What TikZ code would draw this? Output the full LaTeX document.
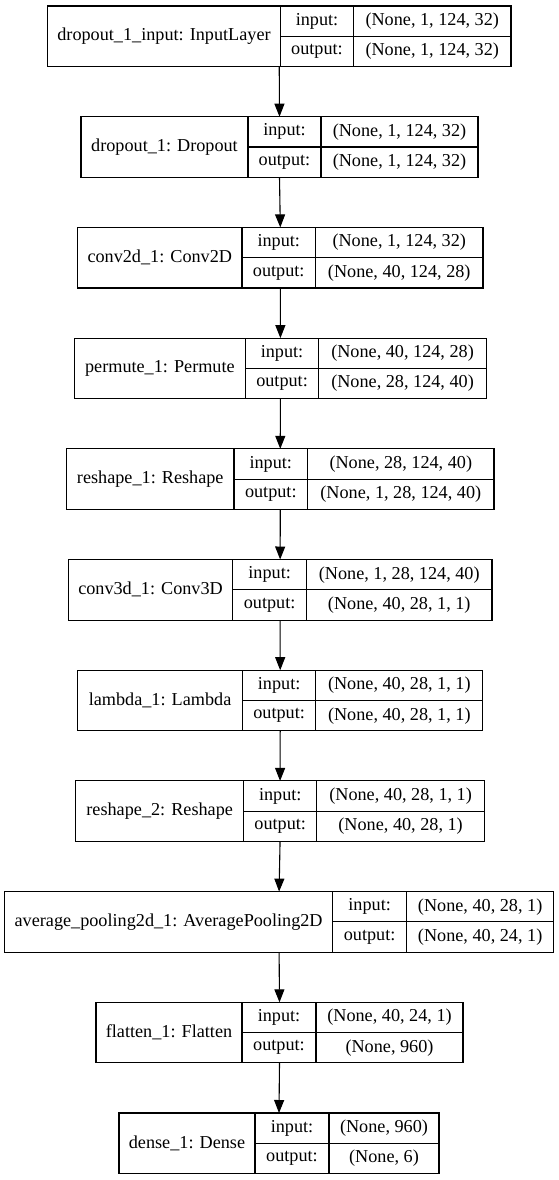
\documentclass[tikz,border=0pt]{standalone}
\usepackage{fontspec}
\setmainfont{Liberation Serif}
\usetikzlibrary{arrows.meta,calc}

\tikzset{
	cell/.style={draw, line width=1.1pt, inner sep=0pt, outer sep=0pt, anchor=north west, font=\fontsize{18.2}{20}\selectfont},
	flow/.style={-{Triangle[length=13pt,width=10pt]}, line width=1.1pt}
}

% #1 name, #2 top, #3-#6 column edges, #7 layer, #8 input shape, #9 output shape
\newcommand{\layerbox}[9]{%
	\node[cell, minimum width={(#4-#3)*1pt}, minimum height=60.6pt] (#1) at (#3,#2) {#7};
	\node[cell, minimum width={(#5-#4)*1pt}, minimum height=30.3pt] (#1-ki) at (#1.north east) {input:};
	\node[cell, minimum width={(#5-#4)*1pt}, minimum height=30.3pt] (#1-ko) at (#1-ki.south west) {output:};
	\node[cell, minimum width={(#6-#5)*1pt}, minimum height=30.3pt] (#1-vi) at (#1-ki.north east) {#8};
	\node[cell, minimum width={(#6-#5)*1pt}, minimum height=30.3pt] (#1-vo) at (#1-vi.south west) {#9};
	\coordinate (#1-top) at ({(#3+#6)/2},#2);
	\coordinate (#1-bot) at ({(#3+#6)/2},{#2+60.6});
}

\begin{document}
\begin{tikzpicture}[x=1pt,y=-1pt]
	%\draw[help lines] (0,0) grid[step=50] (559,1180);
	\fill[white] (0,0) rectangle (559,1180);
	\useasboundingbox (0,0) rectangle (559,1180);

	%LAYERS
	\layerbox{dropin}{6}{47.5}{280.5}{353.5}{511}{dropout\_1\_input: InputLayer}{(None, 1, 124, 32)}{(None, 1, 124, 32)}
	\layerbox{drop}{116.7}{81}{248}{321}{478}{dropout\_1: Dropout}{(None, 1, 124, 32)}{(None, 1, 124, 32)}
	\layerbox{convA}{227.4}{77.6}{242}{315.5}{483}{conv2d\_1: Conv2D}{(None, 1, 124, 32)}{(None, 40, 124, 28)}
	\layerbox{perm}{338.1}{74.4}{245.4}{318.7}{486.4}{permute\_1: Permute}{(None, 40, 124, 28)}{(None, 28, 124, 40)}
	\layerbox{reshA}{448.8}{66.5}{234}{307.6}{494}{reshape\_1: Reshape}{(None, 28, 124, 40)}{(None, 1, 28, 124, 40)}
	\layerbox{convB}{559.5}{68.3}{232.8}{306.5}{492}{conv3d\_1: Conv3D}{(None, 1, 28, 124, 40)}{(None, 40, 28, 1, 1)}
	\layerbox{lamb}{670.2}{77.6}{242.5}{315.8}{482.8}{lambda\_1: Lambda}{(None, 40, 28, 1, 1)}{(None, 40, 28, 1, 1)}
	\layerbox{reshB}{780.9}{75.8}{243.6}{316.9}{484.3}{reshape\_2: Reshape}{(None, 40, 28, 1, 1)}{(None, 40, 28, 1)}
	\layerbox{pool}{891.6}{4.6}{332.6}{406.7}{553.6}{average\_pooling2d\_1: AveragePooling2D}{(None, 40, 28, 1)}{(None, 40, 24, 1)}
	\layerbox{flat}{1002.3}{96}{242}{316}{463}{flatten\_1: Flatten}{(None, 40, 24, 1)}{(None, 960)}
	\layerbox{dense}{1113}{119}{255}{329}{439}{dense\_1: Dense}{(None, 960)}{(None, 6)}

	%ARROWS
	\draw[flow] (dropin-bot) -- (drop-top);
	\draw[flow] (drop-bot) -- (convA-top);
	\draw[flow] (convA-bot) -- (perm-top);
	\draw[flow] (perm-bot) -- (reshA-top);
	\draw[flow] (reshA-bot) -- (convB-top);
	\draw[flow] (convB-bot) -- (lamb-top);
	\draw[flow] (lamb-bot) -- (reshB-top);
	\draw[flow] (reshB-bot) -- (pool-top);
	\draw[flow] (pool-bot) -- (flat-top);
	\draw[flow] (flat-bot) -- (dense-top);
\end{tikzpicture}
\end{document}
